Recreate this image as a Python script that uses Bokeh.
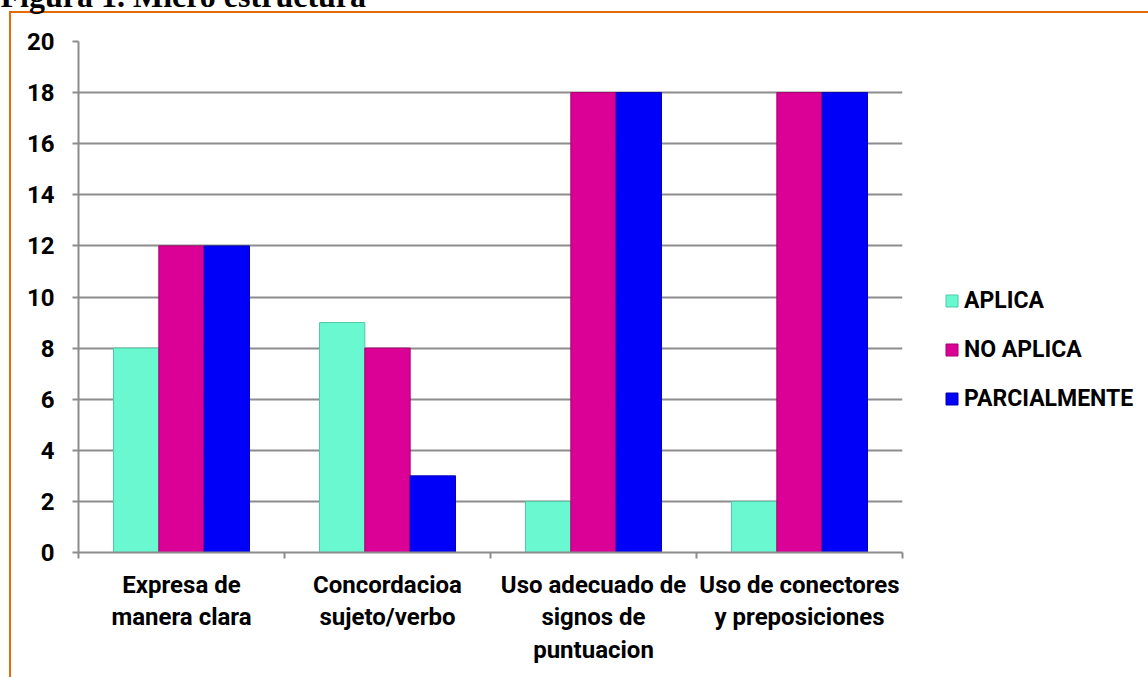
from bokeh.plotting import figure
from bokeh.models import (ColumnDataSource, FixedTicker, Legend, LegendItem,
                          Range1d)
from bokeh.transform import dodge
from bokeh.embed import file_html
from bokeh.resources import INLINE

title_text = "Figura 1. Micro estructura"
categories = ["Expresa de\nmanera clara", "Concordacioa\nsujeto/verbo",
              "Uso adecuado de\nsignos de\npuntuacion",
              "Uso de conectores\ny preposiciones"]
series = ["APLICA", "NO APLICA", "PARCIALMENTE"]
aplica = [8, 9, 2, 2]
no_aplica = [12, 8, 18, 18]
parcialmente = [12, 3, 18, 18]
y_ticks = [0, 2, 4, 6, 8, 10, 12, 14, 16, 18, 20]

colors = ["#6AF8D0", "#DB0096", "#0000FA"]
edge = ["#4FC9A6", "#A8006F", "#0000B0"]
ORANGE = "#E46C0A"
SHIFT = 60  # canvas is shifted up so the cut title sits above the page top

pos = [i + 0.5 for i in range(len(categories))]
src = ColumnDataSource(dict(x=pos, a=aplica, n=no_aplica, p=parcialmente))

FONT = "Roboto"

p = figure(frame_width=824, frame_height=511, output_backend="svg", toolbar_location=None,
           x_range=Range1d(0, len(categories)), y_range=Range1d(0, 20),
           min_border_left=78, min_border_right=0, min_border_top=41 + SHIFT,
           min_border_bottom=125, outline_line_color=None)
p.background_fill_color = "white"
p.border_fill_alpha = 0
p.styles = {
    "margin-top": f"-{SHIFT}px",
    "background": (f"linear-gradient({ORANGE},{ORANGE}) 9px {11 + SHIFT}px / 100% 2px no-repeat, "
                   f"linear-gradient({ORANGE},{ORANGE}) 9px {11 + SHIFT}px / 2px 100% no-repeat, white"),
}

p.title.text = title_text
p.title.align = "left"
p.title.offset = -78
p.title.standoff = 55
p.title.text_font = "Liberation Serif"
p.title.text_font_style = "bold"
p.title.text_font_size = "32px"
p.title.text_color = "black"

bw = 0.22
renderers = []
for off, col, c, e in zip([-bw, 0, bw], ["a", "n", "p"], colors, edge):
    r = p.vbar(x=dodge("x", off, range=p.x_range), top=col, width=bw, bottom=0,
               source=src, fill_color=c, line_color=e, line_width=1)
    renderers.append(r)

# axes
xa = p.xaxis[0]
xa.ticker = FixedTicker(ticks=pos, minor_ticks=list(range(len(categories) + 1)))
xa.major_label_overrides = {x: c for x, c in zip(pos, categories)}
xa.major_tick_line_color = None
xa.major_tick_out = 0
xa.minor_tick_line_color = "#8C8C8C"
xa.minor_tick_line_width = 2
xa.minor_tick_out = 6
xa.minor_tick_in = 0
xa.axis_line_color = "#8C8C8C"
xa.axis_line_width = 2
xa.major_label_text_font = FONT
xa.major_label_text_font_style = "bold"
xa.major_label_text_font_size = "24px"
xa.major_label_text_color = "black"
xa.major_label_text_line_height = 1.17
xa.major_label_standoff = 12

ya = p.yaxis[0]
ya.ticker = FixedTicker(ticks=y_ticks, minor_ticks=[])
ya.major_tick_line_color = "#8C8C8C"
ya.major_tick_line_width = 2
ya.major_tick_out = 6
ya.major_tick_in = 0
ya.axis_line_color = "#8C8C8C"
ya.axis_line_width = 2
ya.major_label_text_font = FONT
ya.major_label_text_font_style = "bold"
ya.major_label_text_font_size = "24px"
ya.major_label_text_color = "black"
ya.major_label_standoff = 18

p.xgrid.grid_line_color = None
p.ygrid.grid_line_color = "#8C8C8C"
p.ygrid.grid_line_width = 2

legend = Legend(items=[LegendItem(label=s, renderers=[r]) for s, r in zip(series, renderers)],
                location=(42, 140), orientation="vertical",
                label_text_font=FONT, label_text_font_style="bold",
                label_text_font_size="23px", label_text_color="black",
                glyph_width=15, glyph_height=15, label_height=24, label_width=180,
                label_standoff=5, spacing=22, padding=0, margin=0,
                border_line_color=None, background_fill_alpha=0)
p.add_layout(legend, "right")

open("out.html", "w").write(file_html(p, INLINE))
